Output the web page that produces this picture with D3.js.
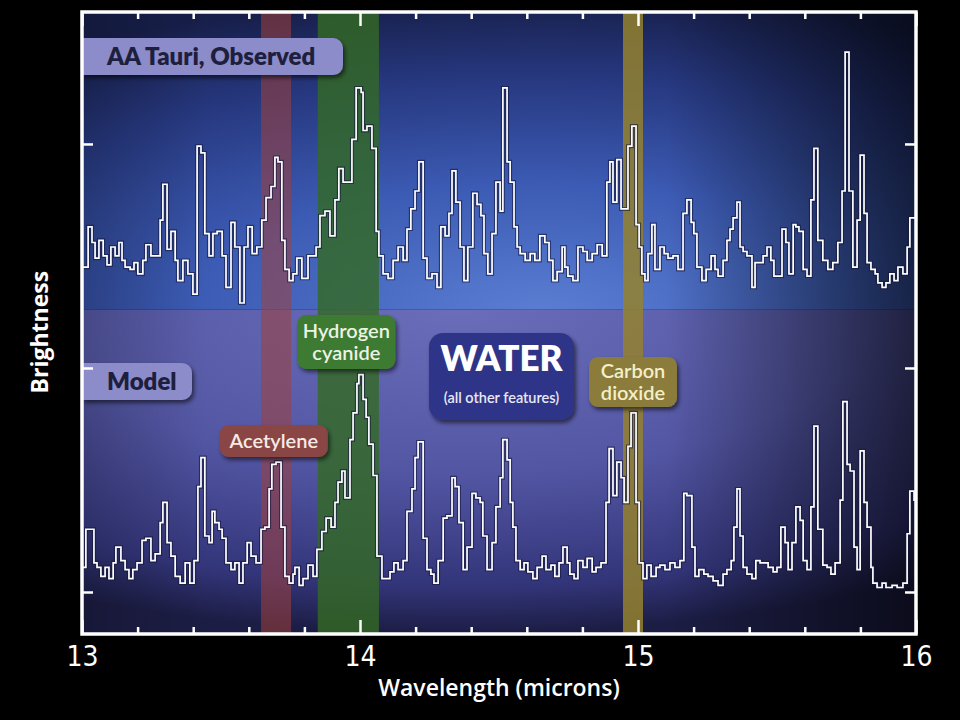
<!DOCTYPE html>
<html>
<head>
<meta charset="UTF-8">
<title>AA Tauri spectrum</title>
<script src="https://cdn.jsdelivr.net/npm/d3@7"></script>
<style>
  body { margin: 0; background: #000; }
  svg text { fill: #fff; }
</style>
</head>
<body>
<div id="chart"></div>
<script>
// wavelength (microns), relative brightness - step spectra
const observedSpectrum = [
[13.000,1.45],[13.022,1.63],[13.036,1.56],[13.047,1.49],[13.061,1.57],[13.076,1.50],[13.090,1.46],[13.104,1.54],[13.119,1.50],[13.133,1.56],[13.144,1.48],[13.155,1.45],[13.173,1.44],[13.187,1.47],[13.201,1.42],[13.219,1.48],[13.230,1.55],[13.248,1.50],[13.281,1.66],[13.291,1.82],[13.306,1.53],[13.320,1.61],[13.335,1.48],[13.345,1.39],[13.363,1.48],[13.381,1.42],[13.399,1.33],[13.414,1.99],[13.428,1.96],[13.442,1.60],[13.457,1.50],[13.471,1.60],[13.486,1.61],[13.504,1.50],[13.518,1.36],[13.536,1.65],[13.550,1.54],[13.568,1.29],[13.583,1.54],[13.597,1.63],[13.612,1.51],[13.629,1.54],[13.647,1.66],[13.662,1.76],[13.680,1.81],[13.694,1.94],[13.705,1.92],[13.719,1.57],[13.730,1.44],[13.745,1.39],[13.759,1.42],[13.773,1.49],[13.791,1.40],[13.813,1.50],[13.842,1.54],[13.856,1.68],[13.874,1.70],[13.892,1.59],[13.910,1.75],[13.924,1.89],[13.939,1.83],[13.971,2.02],[13.986,2.25],[14.004,2.23],[14.011,2.06],[14.025,2.08],[14.043,1.98],[14.058,1.61],[14.068,1.50],[14.083,1.42],[14.101,1.40],[14.119,1.48],[14.137,1.54],[14.155,1.48],[14.169,1.62],[14.183,1.71],[14.198,1.79],[14.212,1.92],[14.227,1.49],[14.241,1.40],[14.259,1.42],[14.277,1.36],[14.291,1.63],[14.306,1.59],[14.320,1.69],[14.331,1.88],[14.345,1.74],[14.360,1.54],[14.374,1.39],[14.388,1.54],[14.406,1.78],[14.421,1.73],[14.435,1.68],[14.446,1.51],[14.460,1.42],[14.475,1.60],[14.489,1.83],[14.504,1.70],[14.514,2.25],[14.529,1.92],[14.540,1.83],[14.554,1.63],[14.565,1.54],[14.576,1.51],[14.594,1.48],[14.612,1.51],[14.629,1.48],[14.647,1.59],[14.665,1.56],[14.680,1.48],[14.694,1.39],[14.709,1.43],[14.727,1.54],[14.737,1.45],[14.748,1.41],[14.766,1.39],[14.784,1.54],[14.802,1.52],[14.817,1.48],[14.835,1.51],[14.853,1.55],[14.871,1.50],[14.888,1.83],[14.899,1.92],[14.910,1.74],[14.924,1.93],[14.939,1.71],[14.964,1.99],[14.978,2.08],[14.993,1.64],[15.004,1.54],[15.014,1.42],[15.025,1.39],[15.036,1.51],[15.050,1.64],[15.061,1.44],[15.079,1.54],[15.094,1.51],[15.108,1.49],[15.126,1.50],[15.144,1.44],[15.162,1.69],[15.176,1.75],[15.191,1.65],[15.201,1.60],[15.212,1.45],[15.230,1.39],[15.245,1.44],[15.263,1.50],[15.277,1.44],[15.288,1.41],[15.306,1.48],[15.320,1.57],[15.331,1.62],[15.342,1.67],[15.356,1.74],[15.367,1.54],[15.378,1.52],[15.392,1.50],[15.410,1.36],[15.421,1.47],[15.450,1.50],[15.464,1.54],[15.478,1.48],[15.489,1.41],[15.518,1.62],[15.532,1.56],[15.543,1.42],[15.558,1.64],[15.568,1.63],[15.579,1.61],[15.594,1.44],[15.608,1.41],[15.622,1.75],[15.633,1.98],[15.647,1.57],[15.665,1.48],[15.683,1.44],[15.701,1.47],[15.719,1.56],[15.734,1.79],[15.745,2.41],[15.759,1.79],[15.773,1.45],[15.788,1.66],[15.799,1.95],[15.813,1.69],[15.824,1.47],[15.838,1.44],[15.853,1.42],[15.863,1.38],[15.878,1.36],[15.892,1.38],[15.906,1.42],[15.921,1.39],[15.935,1.45],[15.953,1.42],[15.968,1.54],[15.978,1.67]
];

const modelSpectrum = [
[13.000,0.11],[13.014,0.28],[13.043,0.13],[13.054,0.11],[13.068,0.07],[13.083,0.11],[13.097,0.06],[13.112,0.13],[13.122,0.20],[13.140,0.14],[13.155,0.10],[13.169,0.06],[13.183,0.10],[13.198,0.13],[13.216,0.23],[13.230,0.24],[13.248,0.14],[13.263,0.17],[13.281,0.31],[13.291,0.40],[13.306,0.22],[13.320,0.16],[13.335,0.07],[13.353,0.04],[13.371,0.13],[13.388,0.04],[13.403,0.14],[13.417,0.47],[13.428,0.60],[13.442,0.25],[13.457,0.22],[13.468,0.36],[13.478,0.31],[13.493,0.28],[13.504,0.24],[13.518,0.13],[13.536,0.10],[13.550,0.13],[13.565,0.04],[13.579,0.13],[13.594,0.22],[13.608,0.16],[13.626,0.13],[13.644,0.28],[13.658,0.29],[13.673,0.46],[13.683,0.57],[13.698,0.58],[13.716,0.29],[13.730,0.07],[13.745,0.04],[13.759,0.08],[13.766,0.11],[13.781,0.03],[13.795,0.06],[13.813,0.12],[13.831,0.07],[13.845,0.19],[13.863,0.27],[13.878,0.33],[13.896,0.29],[13.910,0.40],[13.921,0.49],[13.935,0.54],[13.946,0.42],[13.964,0.68],[13.975,0.80],[13.989,0.93],[13.996,0.97],[14.011,0.86],[14.022,0.78],[14.032,0.66],[14.047,0.52],[14.061,0.16],[14.079,0.06],[14.108,0.09],[14.122,0.13],[14.137,0.10],[14.155,0.14],[14.169,0.36],[14.187,0.46],[14.198,0.60],[14.209,0.67],[14.227,0.24],[14.241,0.10],[14.255,0.08],[14.266,0.04],[14.281,0.14],[14.299,0.33],[14.313,0.34],[14.331,0.51],[14.342,0.47],[14.356,0.31],[14.371,0.10],[14.385,0.20],[14.403,0.44],[14.417,0.42],[14.432,0.40],[14.442,0.25],[14.457,0.10],[14.475,0.22],[14.489,0.38],[14.504,0.51],[14.514,0.68],[14.529,0.59],[14.540,0.40],[14.550,0.29],[14.561,0.14],[14.576,0.10],[14.590,0.13],[14.604,0.09],[14.622,0.06],[14.637,0.11],[14.655,0.16],[14.669,0.10],[14.687,0.12],[14.701,0.07],[14.716,0.13],[14.730,0.20],[14.745,0.13],[14.755,0.08],[14.770,0.06],[14.784,0.14],[14.802,0.11],[14.817,0.15],[14.835,0.09],[14.849,0.11],[14.867,0.13],[14.885,0.40],[14.896,0.64],[14.910,0.43],[14.924,0.58],[14.939,0.51],[14.950,0.40],[14.964,0.65],[14.975,0.80],[14.993,0.40],[15.004,0.13],[15.018,0.06],[15.032,0.12],[15.047,0.07],[15.065,0.11],[15.079,0.12],[15.097,0.10],[15.115,0.13],[15.133,0.11],[15.151,0.14],[15.165,0.44],[15.176,0.43],[15.194,0.20],[15.205,0.07],[15.219,0.10],[15.237,0.08],[15.252,0.07],[15.270,0.05],[15.288,0.03],[15.306,0.08],[15.320,0.10],[15.335,0.14],[15.345,0.29],[15.356,0.46],[15.367,0.25],[15.378,0.11],[15.392,0.08],[15.410,0.06],[15.424,0.14],[15.439,0.13],[15.453,0.13],[15.468,0.11],[15.486,0.09],[15.500,0.11],[15.514,0.29],[15.529,0.22],[15.540,0.10],[15.554,0.22],[15.568,0.38],[15.583,0.32],[15.594,0.14],[15.608,0.10],[15.622,0.38],[15.633,0.74],[15.647,0.28],[15.665,0.12],[15.680,0.11],[15.694,0.08],[15.709,0.13],[15.727,0.41],[15.737,0.85],[15.752,0.57],[15.763,0.54],[15.777,0.20],[15.788,0.10],[15.799,0.63],[15.813,0.40],[15.824,0.29],[15.838,0.11],[15.845,0.04],[15.860,0.02],[15.878,0.04],[15.892,0.02],[15.914,0.03],[15.932,0.02],[15.953,0.04],[15.968,0.26],[15.978,0.45],[15.993,0.41]
];

// molecule bands (microns)
const bands = [
  {name: "Acetylene",        from: 13.644, to: 13.752},
  {name: "Hydrogen cyanide", from: 13.848, to: 14.068},
  {name: "Carbon dioxide",   from: 14.946, to: 15.018}
];

const majorTicks = [13, 14, 15, 16];
const minorTicks = [13.2, 13.4, 13.6, 13.8, 14.2, 14.4, 14.6, 14.8, 15.2, 15.4, 15.6, 15.8];
const yTicks = [0, 1, 2];
const panelSplit = 1.26;   // brightness where observed panel meets model panel

// set the dimensions and margins of the graph
var margin = {top: 12, right: 44, bottom: 86, left: 82},
    width = 960 - margin.left - margin.right,
    height = 720 - margin.top - margin.bottom;

var svgRoot = d3.select("#chart")
  .append("svg")
    .attr("width", 960)
    .attr("height", 720)
    .style("background", "#000");

var defs = svgRoot.append("defs");

var svg = svgRoot.append("g")
    .attr("transform", "translate(" + margin.left + "," + margin.top + ")");

var x = d3.scaleLinear().domain([13, 16]).range([0, width]);
var y = d3.scaleLinear().domain([-0.1875, 2.589]).range([height, 0]);

// gradients
function radial(id, cx, cy, r, stops) {
  var g = defs.append("radialGradient")
    .attr("id", id).attr("cx", cx).attr("cy", cy).attr("r", r);
  g.selectAll("stop").data(stops).enter().append("stop")
    .attr("offset", d => d[0]).attr("stop-color", d => d[1]);
}
radial("topGrad", 0.55, 1.0, 1.05, [[0, "#5a7dd2"], [0.4, "#3c5bb4"], [0.75, "#26377e"], [1, "#171f4a"]]);
radial("botGrad", 0.45, 0.0, 1.0, [[0, "#6a6db9"], [0.5, "#5356a3"], [0.85, "#33357a"], [1, "#1c1d44"]]);

var vig = defs.append("linearGradient").attr("id", "vignette");
vig.selectAll("stop").data([[0, 0.18], [0.15, 0], [0.7, 0], [1, 0.6]]).enter().append("stop")
  .attr("offset", d => d[0]).attr("stop-color", "#000").attr("stop-opacity", d => d[1]);

var shadow = defs.append("filter").attr("id", "shadow")
  .attr("x", "-20%").attr("y", "-20%").attr("width", "150%").attr("height", "160%");
shadow.append("feDropShadow").attr("dx", 2).attr("dy", 3).attr("stdDeviation", 2)
  .attr("flood-color", "#000").attr("flood-opacity", 0.55);

// panels
svg.append("rect")
  .attr("x", 0).attr("y", 0).attr("width", width).attr("height", y(panelSplit))
  .attr("fill", "url(#topGrad)");
svg.append("rect")
  .attr("x", 0).attr("y", y(panelSplit)).attr("width", width).attr("height", height - y(panelSplit))
  .attr("fill", "url(#botGrad)");
svg.append("rect")
  .attr("width", width).attr("height", height).attr("fill", "url(#vignette)");

// bands
var bandStyle = {
  "Acetylene":        {fill: "#a0403a", opacity: 0.55, box: "#8a4545", text: "#f6ebe4"},
  "Hydrogen cyanide": {fill: "#336a22", opacity: 0.8,  box: "#3e7a33", text: "#ecf3e4"},
  "Carbon dioxide":   {fill: "#94812e", opacity: 0.85, box: "#8b7b3a", text: "#f4efc8"}
};
svg.selectAll(".band")
  .data(bands)
  .enter().append("rect")
    .attr("class", "band")
    .attr("x", d => x(d.from))
    .attr("width", d => x(d.to) - x(d.from))
    .attr("y", 0).attr("height", height)
    .attr("fill", d => bandStyle[d.name].fill)
    .attr("opacity", d => bandStyle[d.name].opacity);

// spectra as step lines
var line = d3.line()
  .x(d => x(d[0]))
  .y(d => y(d[1]))
  .curve(d3.curveStepAfter);

[observedSpectrum, modelSpectrum].forEach(function(s) {
  var pts = s.concat([[16, s[s.length - 1][1]]]);
  svg.append("path").datum(pts)
    .attr("fill", "none").attr("stroke", "#14163a").attr("stroke-opacity", 0.6)
    .attr("stroke-width", 4).attr("d", line);
  svg.append("path").datum(pts)
    .attr("fill", "none").attr("stroke", "#fff")
    .attr("stroke-width", 1.7).attr("d", line);
});

// label boxes
function box(cx, cy, w, h, fill, r) {
  svg.append("rect")
    .attr("x", cx - w / 2).attr("y", cy - h / 2)
    .attr("width", w).attr("height", h)
    .attr("rx", r).attr("fill", fill)
    .attr("filter", "url(#shadow)");
}
function textLines(cx, cy, lines, size, color, weight, gap) {
  var t = svg.append("text")
    .attr("text-anchor", "middle")
    .style("font-family", "Lato, 'Open Sans', sans-serif")
    .style("font-size", size + "px")
    .style("font-weight", weight)
    .style("fill", color);
  var start = cy - (lines.length - 1) * gap / 2;
  lines.forEach(function(l, i) {
    t.append("tspan").attr("x", cx).attr("y", start + i * gap).attr("dy", "0.35em").text(l);
  });
}

// Acetylene
var ac = bands[0], hc = bands[1], co = bands[2];
box(x(13.69), y(0.674), 108, 32, bandStyle[ac.name].box, 9);
textLines(x(13.69), y(0.674), ["Acetylene"], 20, bandStyle[ac.name].text, 600, 0);
// Hydrogen cyanide
box(x((hc.from + hc.to) / 2) - 2, y(1.116), 98, 54, bandStyle[hc.name].box, 9);
textLines(x((hc.from + hc.to) / 2) - 2, y(1.116), ["Hydrogen", "cyanide"], 20, bandStyle[hc.name].text, 600, 22);
// Carbon dioxide
box(x((co.from + co.to) / 2), y(0.9375), 88, 50, bandStyle[co.name].box, 9);
textLines(x((co.from + co.to) / 2), y(0.9375), ["Carbon", "dioxide"], 20, bandStyle[co.name].text, 600, 22);
// Water
box(x(14.509), y(0.962), 145, 87, "#2e3588", 14);
textLines(x(14.509), y(1.04), ["WATER"], 35, "#fff", 800, 0);
textLines(x(14.509), y(0.865), ["(all other features)"], 14.5, "#e8e8f4", 600, 0);

// panel name tags, flush against the left frame
function tag(yc, w, h, label) {
  var r = 10, y0 = yc - h / 2, y1 = yc + h / 2;
  svg.append("path")
    .attr("d", "M0," + y0 + "H" + (w - r) + "A" + r + "," + r + " 0 0 1 " + w + "," + (y0 + r) +
               "V" + (y1 - r) + "A" + r + "," + r + " 0 0 1 " + (w - r) + "," + y1 + "H0Z")
    .attr("fill", "#8b8cc9")
    .attr("filter", "url(#shadow)");
  svg.append("text")
    .attr("x", 25).attr("y", yc).attr("dy", "0.35em")
    .style("font-family", "Lato, 'Open Sans', sans-serif")
    .style("font-size", "24px").style("font-weight", 800)
    .style("fill", "#1e1f3e")
    .text(label);
}
tag(y(2.39), 261, 37, "AA Tauri, Observed");
tag(y(0.94), 110, 37, "Model");

// axes with inward ticks
function styleAxis(g) {
  g.select(".domain").remove();
  g.selectAll(".tick line").attr("stroke", "#fff").attr("stroke-width", 2.5);
}
svg.append("g").attr("transform", "translate(0," + height + ")")
  .call(d3.axisBottom(x).tickValues(minorTicks).tickSizeInner(-7).tickFormat(""))
  .call(styleAxis);
svg.append("g")
  .call(d3.axisTop(x).tickValues(minorTicks).tickSizeInner(-7).tickFormat(""))
  .call(styleAxis);
svg.append("g")
  .call(d3.axisTop(x).tickValues(majorTicks).tickSizeInner(-14).tickFormat(""))
  .call(styleAxis);
var xAxis = svg.append("g").attr("transform", "translate(0," + height + ")")
  .call(d3.axisBottom(x).tickValues(majorTicks).tickSizeInner(-14).tickPadding(12).tickFormat(d3.format("d")))
  .call(styleAxis);
xAxis.selectAll("text")
  .style("font-family", "'Liberation Sans Narrow', 'DejaVu Sans Condensed', sans-serif")
  .style("font-size", "28px")
  .style("fill", "#fff");

svg.append("g")
  .call(d3.axisLeft(y).tickValues(yTicks).tickSizeInner(-11).tickFormat(""))
  .call(styleAxis);
svg.append("g").attr("transform", "translate(" + width + ",0)")
  .call(d3.axisRight(y).tickValues(yTicks).tickSizeInner(-11).tickFormat(""))
  .call(styleAxis);

// frame
svg.append("rect")
  .attr("width", width).attr("height", height)
  .attr("fill", "none").attr("stroke", "#fff").attr("stroke-width", 3.5);

// axis titles
svg.append("text")
  .attr("x", width / 2).attr("y", height + 62)
  .attr("text-anchor", "middle")
  .style("font-family", "'Open Sans', sans-serif")
  .style("font-size", "23px").style("font-weight", 600)
  .text("Wavelength (microns)");

svg.append("text")
  .attr("transform", "translate(" + (-34) + "," + y(1.16) + ") rotate(-90)")
  .attr("text-anchor", "middle")
  .style("font-family", "'Open Sans', sans-serif")
  .style("font-size", "23px").style("font-weight", 700)
  .text("Brightness");
</script>
</body>
</html>
